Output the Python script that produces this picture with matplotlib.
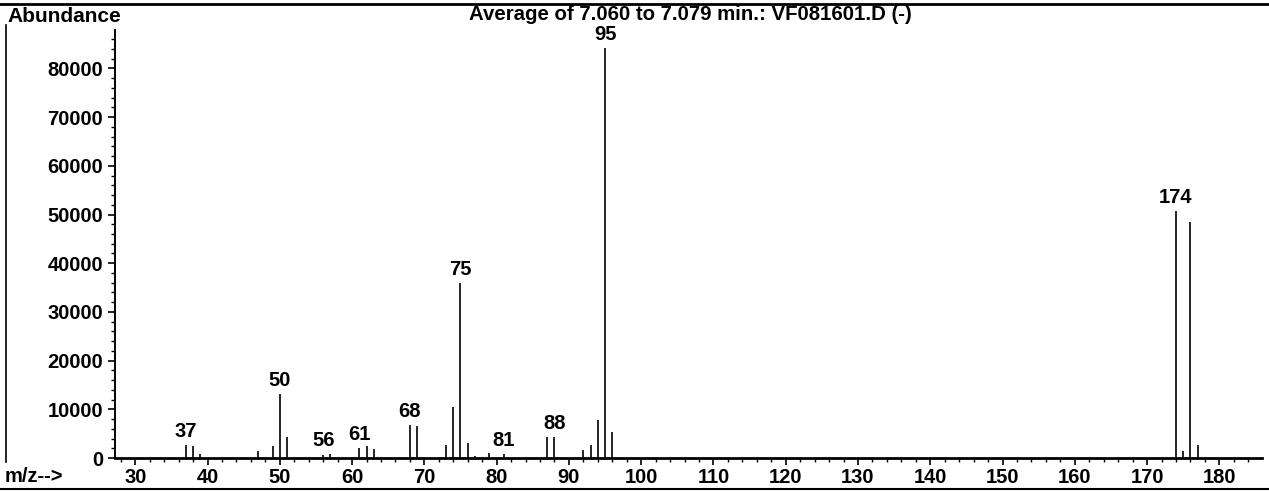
import matplotlib
matplotlib.use('Agg')
import matplotlib.pyplot as plt
from matplotlib.ticker import MultipleLocator

plt.rcParams['font.family'] = ['Liberation Sans', 'DejaVu Sans']
plt.rcParams['font.weight'] = 'bold'

# mass spectrum peaks (m/z, abundance)
mz = [37, 38, 39, 47, 49, 50, 51, 56, 57, 61, 62, 63, 68, 69, 73, 74, 75, 76,
      77, 79, 81, 87, 88, 92, 93, 94, 95, 96, 174, 175, 176, 177]
abund = [2700, 2500, 800, 1400, 2500, 13100, 4300, 700, 800, 2000, 2500, 1900,
         6800, 6600, 2700, 10400, 35900, 3000, 500, 1100, 800, 4300, 4300,
         1600, 2700, 7800, 84200, 5300, 50700, 1400, 48500, 2700]
labeled = [37, 50, 56, 61, 68, 75, 81, 88, 95, 174]

x_ticks = [30, 40, 50, 60, 70, 80, 90, 100, 110, 120, 130, 140, 150, 160, 170, 180]
y_ticks = [0, 10000, 20000, 30000, 40000, 50000, 60000, 70000, 80000]

title = 'Average of 7.060 to 7.079 min.: VF081601.D (-)'

W, H = 1269, 491
fig = plt.figure(figsize=(W / 100, H / 100), dpi=100)
ax = fig.add_axes([115 / W, 33 / H, (1262 - 115) / W, (458 - 30) / H])

ax.vlines(mz, 0, abund, color='black', lw=1.2)
for m, a in zip(mz, abund):
    if m in labeled:
        ax.annotate(str(m), (m, a), xytext=(0, 3), textcoords='offset points',
                    ha='center', va='bottom', fontsize=14.5, fontweight='bold')

ax.set_xlim(27.2, 185.9)
ax.set_ylim(0, 87900)
ax.set_xticks(x_ticks)
ax.set_yticks(y_ticks)
ax.xaxis.set_minor_locator(MultipleLocator(2))
ax.yaxis.set_minor_locator(MultipleLocator(2000))
ax.tick_params(axis='both', which='major', labelsize=14.5, length=5, width=1.2, direction='out')
ax.tick_params(axis='both', which='minor', length=3, width=1)
ax.tick_params(axis='x', pad=2)
for lab in ax.get_xticklabels() + ax.get_yticklabels():
    lab.set_fontweight('bold')

for s in ['top', 'right']:
    ax.spines[s].set_visible(False)
ax.spines['left'].set_linewidth(1.4)
ax.spines['bottom'].set_linewidth(2)

fig.text(7 / W, 1 - 17 / H, 'Abundance', fontsize=15, fontweight='bold', ha='left', va='center')
fig.text(690 / W, 1 - 15 / H, title, fontsize=14.7, fontweight='bold', ha='center', va='center')
fig.text(5 / W, 1 - 476 / H, 'm/z-->', fontsize=14.5, fontweight='bold', ha='left', va='center')

# printout frame lines
fig.add_artist(plt.Line2D([0, 1], [1 - 4 / H, 1 - 4 / H], color='black', lw=2))
fig.add_artist(plt.Line2D([6 / W, 6 / W], [1 - 25 / H, 1 - 462 / H], color='black', lw=1.2))
fig.add_artist(plt.Line2D([0, 1], [1 - 489 / H, 1 - 489 / H], color='black', lw=1.5))

fig.savefig('out.png', dpi=100)
